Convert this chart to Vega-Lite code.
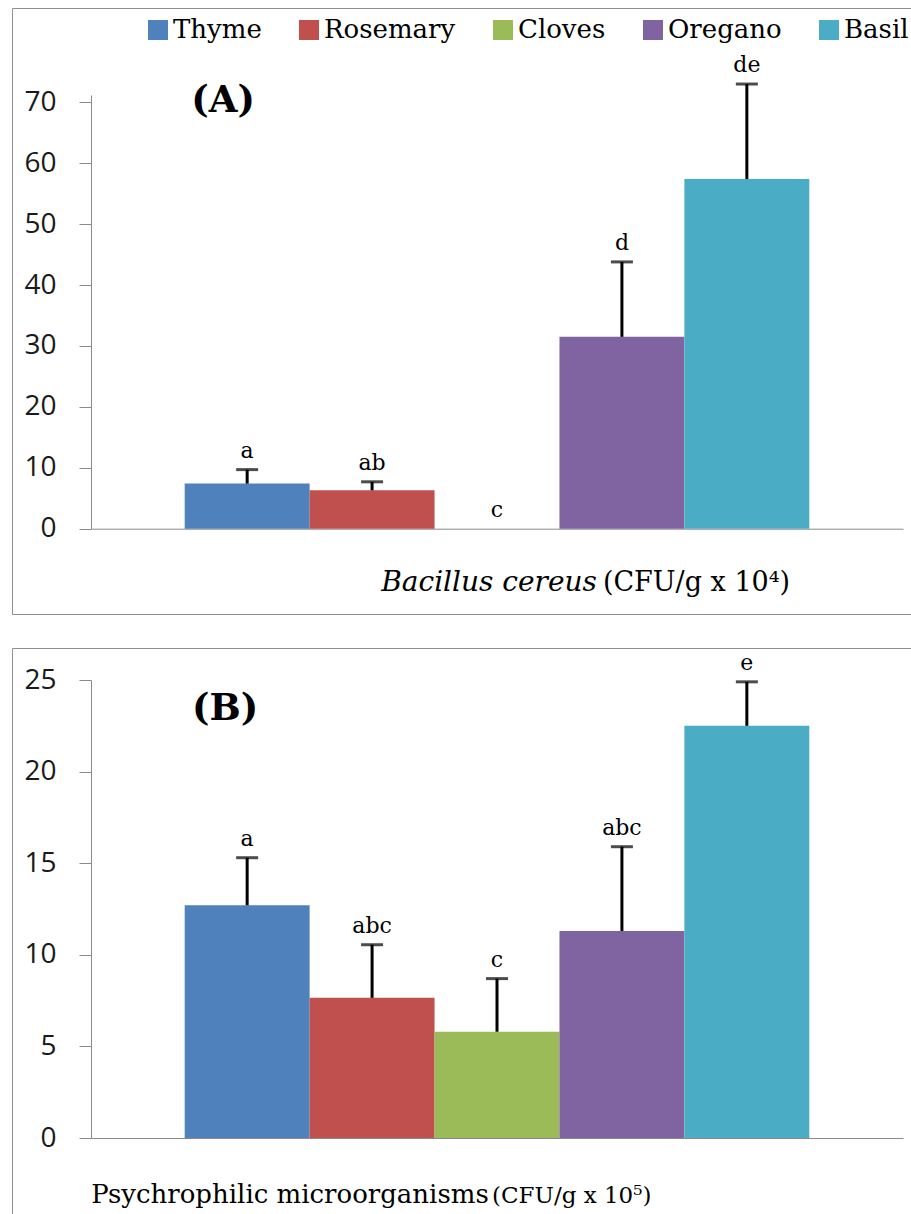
{
  "$schema": "https://vega.github.io/schema/vega-lite/v6.json",
  "padding": {"left": 11, "top": 7, "right": 0, "bottom": 0},
  "background": "white",
  "config": {"view": {"stroke": "#8f8f8f", "strokeWidth": 1}, "axis": {"grid": false}},
  "spacing": 32,
  "resolve": {"scale": {"x": "independent", "y": "independent", "color": "independent"}, "legend": {"color": "independent"}},
  "vconcat": [
    {
      "width": 909,
      "height": 606,
      "data": {"values": [
        {"spice": "Thyme", "mean": 7.4, "hi": 9.7, "letter": "a"},
        {"spice": "Rosemary", "mean": 6.3, "hi": 7.7, "letter": "ab"},
        {"spice": "Cloves", "mean": 0, "hi": 0, "letter": "c"},
        {"spice": "Oregano", "mean": 31.5, "hi": 43.8, "letter": "d"},
        {"spice": "Basil", "mean": 57.4, "hi": 73.0, "letter": "de"}
      ]},
      "encoding": {
        "x": {"field": "spice", "type": "nominal",
          "scale": {"domain": ["Thyme", "Rosemary", "Cloves", "Oregano", "Basil"], "range": [79, 891], "paddingInner": 0, "paddingOuter": 0.75},
          "axis": {"labels": false, "ticks": false, "title": null, "domainColor": "#8a8a8a", "domainWidth": 1, "offset": -85.3}}
      },
      "layer": [
        {
          "mark": {"type": "bar"},
          "encoding": {
            "y": {"field": "mean", "type": "quantitative",
              "scale": {"domain": [0, 71.2], "range": [520.7, 87], "nice": false, "zero": true},
              "axis": {"values": [0, 10, 20, 30, 40, 50, 60, 70], "title": null, "offset": -79, "labelFont": "Open Sans", "labelFontSize": 28, "labelColor": "#1a1a1a", "tickSize": 12, "tickColor": "#8a8a8a", "domainColor": "#8a8a8a", "tickWidth": 1, "domainWidth": 1, "labelPadding": 23}},
            "color": {"field": "spice", "type": "nominal",
              "scale": {"domain": ["Thyme", "Rosemary", "Cloves", "Oregano", "Basil"], "range": ["#4F81BD", "#C0504D", "#9BBB59", "#8064A2", "#4BACC6"]},
              "legend": {"orient": "none", "legendX": 133, "legendY": 9, "direction": "horizontal", "title": null, "symbolType": "square", "symbolSize": 400, "symbolStrokeWidth": 0, "symbolOpacity": 1, "labelFont": "DejaVu Serif", "labelFontSize": 26, "labelColor": "black", "labelOffset": 2, "columnPadding": 34, "labelLimit": 300}}
          }
        },
        {
          "transform": [{"filter": "datum.hi > datum.mean"}],
          "mark": {"type": "rule", "strokeWidth": 3, "color": "black"},
          "encoding": {"y": {"field": "mean", "type": "quantitative"}, "y2": {"field": "hi"}}
        },
        {
          "transform": [{"filter": "datum.hi > datum.mean"}],
          "mark": {"type": "tick", "orient": "horizontal", "thickness": 3, "size": 22, "color": "black"},
          "encoding": {"y": {"field": "hi", "type": "quantitative"}}
        },
        {
          "mark": {"type": "text", "font": "DejaVu Serif", "fontSize": 22, "baseline": "alphabetic", "dy": -12, "color": "black"},
          "encoding": {"y": {"field": "hi", "type": "quantitative"}, "text": {"field": "letter"}}
        },
        {
          "data": {"values": [{"t": "(A)"}]},
          "mark": {"type": "text", "font": "DejaVu Serif", "fontSize": 37, "fontWeight": "bold", "baseline": "middle", "dx": -24, "color": "black"},
          "encoding": {"x": {"datum": "Thyme"}, "y": {"datum": 70.2}, "text": {"field": "t"}}
        },
        {
          "data": {"values": [{"t": "Bacillus cereus"}]},
          "mark": {"type": "text", "font": "DejaVu Serif", "fontSize": 28, "fontStyle": "italic", "align": "right", "baseline": "alphabetic", "dx": -25, "color": "black"},
          "encoding": {"x": {"datum": "Oregano"}, "y": {"datum": -10.2}, "text": {"field": "t"}}
        },
        {
          "data": {"values": [{"t": "(CFU/g x 10⁴)"}]},
          "mark": {"type": "text", "font": "DejaVu Serif", "fontSize": 27, "align": "left", "baseline": "alphabetic", "dx": -19, "color": "black"},
          "encoding": {"x": {"datum": "Oregano"}, "y": {"datum": -10.2}, "text": {"field": "t"}}
        }
      ]
    },
    {
      "width": 909,
      "height": 580,
      "data": {"values": [
        {"spice": "Thyme", "mean": 12.7, "hi": 15.3, "letter": "a"},
        {"spice": "Rosemary", "mean": 7.65, "hi": 10.55, "letter": "abc"},
        {"spice": "Cloves", "mean": 5.8, "hi": 8.7, "letter": "c"},
        {"spice": "Oregano", "mean": 11.3, "hi": 15.9, "letter": "abc"},
        {"spice": "Basil", "mean": 22.5, "hi": 24.9, "letter": "e"}
      ]},
      "encoding": {
        "x": {"field": "spice", "type": "nominal",
          "scale": {"domain": ["Thyme", "Rosemary", "Cloves", "Oregano", "Basil"], "range": [79, 891], "paddingInner": 0, "paddingOuter": 0.75},
          "axis": {"labels": false, "ticks": false, "title": null, "domainColor": "#8a8a8a", "domainWidth": 1, "offset": -90}}
      },
      "layer": [
        {
          "mark": {"type": "bar"},
          "encoding": {
            "y": {"field": "mean", "type": "quantitative",
              "scale": {"domain": [0, 25], "range": [490, 32], "nice": false, "zero": true},
              "axis": {"values": [0, 5, 10, 15, 20, 25], "title": null, "offset": -79, "labelFont": "Open Sans", "labelFontSize": 28, "labelColor": "#1a1a1a", "tickSize": 12, "tickColor": "#8a8a8a", "domainColor": "#8a8a8a", "tickWidth": 1, "domainWidth": 1, "labelPadding": 23}},
            "color": {"field": "spice", "type": "nominal",
              "scale": {"domain": ["Thyme", "Rosemary", "Cloves", "Oregano", "Basil"], "range": ["#4F81BD", "#C0504D", "#9BBB59", "#8064A2", "#4BACC6"]},
              "legend": null}
          }
        },
        {
          "mark": {"type": "rule", "strokeWidth": 3, "color": "black"},
          "encoding": {"y": {"field": "mean", "type": "quantitative"}, "y2": {"field": "hi"}}
        },
        {
          "mark": {"type": "tick", "orient": "horizontal", "thickness": 3, "size": 22, "color": "black"},
          "encoding": {"y": {"field": "hi", "type": "quantitative"}}
        },
        {
          "mark": {"type": "text", "font": "DejaVu Serif", "fontSize": 22, "baseline": "alphabetic", "dy": -12, "color": "black"},
          "encoding": {"y": {"field": "hi", "type": "quantitative"}, "text": {"field": "letter"}}
        },
        {
          "data": {"values": [{"t": "(B)"}]},
          "mark": {"type": "text", "font": "DejaVu Serif", "fontSize": 37, "fontWeight": "bold", "baseline": "middle", "dx": -22, "color": "black"},
          "encoding": {"x": {"datum": "Thyme"}, "y": {"datum": 23.4}, "text": {"field": "t"}}
        },
        {
          "data": {"values": [{"t": "Psychrophilic microorganisms"}]},
          "mark": {"type": "text", "font": "DejaVu Serif", "fontSize": 26, "align": "left", "baseline": "alphabetic", "dx": -156, "color": "black"},
          "encoding": {"x": {"datum": "Thyme"}, "y": {"datum": -3.55}, "text": {"field": "t"}}
        },
        {
          "data": {"values": [{"t": "(CFU/g x 10⁵)"}]},
          "mark": {"type": "text", "font": "DejaVu Serif", "fontSize": 23, "align": "left", "baseline": "alphabetic", "dx": -5, "color": "black"},
          "encoding": {"x": {"datum": "Cloves"}, "y": {"datum": -3.55}, "text": {"field": "t"}}
        }
      ]
    }
  ]
}
